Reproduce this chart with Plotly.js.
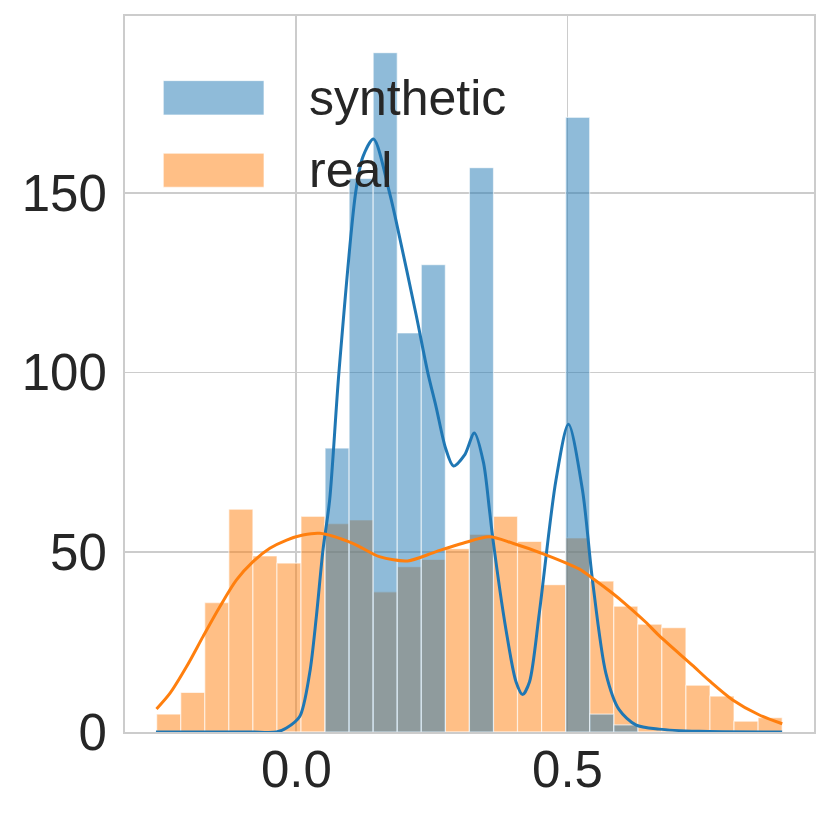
<!DOCTYPE html>
<html>
<head>
<meta charset="utf-8">
<script src="https://cdn.plot.ly/plotly-3.0.1.min.js"></script>
<style>html,body{margin:0;padding:0;background:#fff;}#chart{width:831px;height:817px;}</style>
</head>
<body>
<div id="chart"></div>
<script>
// Histogram bin centres (shared bins)
const binCenters = [-0.2355,-0.1911,-0.1468,-0.1024,-0.0580,-0.0137,0.0307,0.0751,0.1194,0.1638,
  0.2082,0.2525,0.2969,0.3413,0.3856,0.4300,0.4744,0.5187,0.5631,0.6075,0.6518,0.6962,0.7406,0.7849,0.8293,0.8737];
const binWidth = 0.04437;

// Counts
const realCounts = [5,11,36,62,49,47,60,58,59,39,46,48,51,55,60,53,41,54,42,35,30,29,13,10,3,4];
const synthCounts = [0,0,0,0,0,0,0,79,154,189,111,130,0,157,0,0,0,171,5,2,0,0,0,0,0,0];

// KDE curves
const synthKdeX = [-0.259,-0.086,-0.0368,-0.0184,0.0061,0.0245,0.0368,0.0490,0.0613,0.0784,0.1092,0.1226,0.1423,
  0.1718,0.1841,0.2209,0.2423,0.2577,0.2750,0.2896,0.3100,0.3282,0.3450,0.3559,0.3619,0.3866,0.4050,0.4172,0.4300,0.4479,
  0.4786,0.5018,0.5276,0.5460,0.5707,0.5952,0.6259,0.6688,0.7425,0.8958];
const synthKdeY = [0,0,0,1.1,4.3,16.4,32.1,50.6,64.5,100,150,160,165,
  150,142,116,100,90.4,79,74,77,83.2,75,62,54.3,28.4,14,10.4,14,33,
  70,85.6,67.3,42.3,16.4,6.2,2,0.8,0.2,0];

const realKdeX = [-0.258,-0.233,-0.2025,-0.172,-0.141,-0.1105,-0.080,-0.049,-0.018,0.012,0.043,0.104,0.153,0.205,
  0.258,0.307,0.356,0.399,0.460,0.522,0.546,0.583,0.607,0.644,0.669,0.730,0.762,0.804,0.853,0.896];
const realKdeY = [6.4,10.8,18.2,26.6,34.9,42.3,47.4,51.1,53.4,54.8,55.3,52.5,48.8,47.6,
  50.2,52.5,54.3,52.5,49.3,45.3,42.8,38.6,35.6,30.6,26.8,18.6,14.2,9,4.8,2.3];

const xTickVals = [0, 0.5];
const xTickText = ['0.0', '0.5'];
const yTickVals = [0, 50, 100, 150];
const legendLabels = ['synthetic', 'real'];

const BLUE = '#1f77b4', ORANGE = '#ff7f0e';
const FONT = 'Liberation Sans, Arial, sans-serif';

const traces = [
  {type:'bar', x:binCenters, y:realCounts, width:binWidth, name:'real',
   marker:{color:'rgba(255,127,14,0.5)', line:{color:'rgba(255,255,255,0.6)', width:1.2}}, showlegend:false, hoverinfo:'skip'},
  {type:'bar', x:binCenters, y:synthCounts, width:binWidth, name:'synthetic',
   marker:{color:'rgba(31,119,180,0.5)', line:{color:'rgba(255,255,255,0.6)', width:1.2}}, showlegend:false, hoverinfo:'skip'},
  {type:'scatter', mode:'lines', x:synthKdeX, y:synthKdeY, line:{color:BLUE, width:3, shape:'spline', smoothing:0.8}, showlegend:false, hoverinfo:'skip'},
  {type:'scatter', mode:'lines', x:realKdeX, y:realKdeY, line:{color:ORANGE, width:3, shape:'spline', smoothing:0.8}, showlegend:false, hoverinfo:'skip'}
];

const layout = {
  width:831, height:817,
  margin:{l:125, r:17, t:16, b:85},
  paper_bgcolor:'#ffffff', plot_bgcolor:'#ffffff',
  barmode:'overlay', bargap:0,
  showlegend:false,
  font:{family:FONT, color:'#262626', size:50},
  xaxis:{range:[-0.3161,0.9546], tickvals:xTickVals, ticktext:xTickText, showgrid:true, gridcolor:'#cccccc', gridwidth:1.8,
    zeroline:false, showline:true, mirror:true, linecolor:'#cccccc', linewidth:2, ticks:'', ticklabelstandoff:-8,
    tickfont:{family:FONT, size:51, color:'#262626'}},
  yaxis:{range:[0,199.2], tickvals:yTickVals, showgrid:true, gridcolor:'#cccccc', gridwidth:1.8,
    zeroline:false, showline:true, mirror:true, linecolor:'#cccccc', linewidth:2, ticks:'', ticklabelstandoff:6,
    tickfont:{family:FONT, size:51, color:'#262626'}},
  shapes:[
    {type:'rect', xref:'paper', yref:'paper', x0:0.0556, x1:0.2017, y0:0.8618, y1:0.9097, layer:'above',
     fillcolor:'rgba(31,119,180,0.5)', line:{color:'rgba(255,255,255,0.6)', width:1}},
    {type:'rect', xref:'paper', yref:'paper', x0:0.0556, x1:0.2017, y0:0.7609, y1:0.8083, layer:'above',
     fillcolor:'rgba(255,127,14,0.5)', line:{color:'rgba(255,255,255,0.6)', width:1}}
  ],
  annotations:[
    {xref:'paper', yref:'paper', x:0.2637, y:0.8858, xanchor:'left', yanchor:'middle', text:legendLabels[0], showarrow:false,
     font:{family:FONT, size:50, color:'#262626'}},
    {xref:'paper', yref:'paper', x:0.2637, y:0.7846, xanchor:'left', yanchor:'middle', text:legendLabels[1], showarrow:false,
     font:{family:FONT, size:50, color:'#262626'}}
  ]
};

Plotly.newPlot('chart', traces, layout, {displayModeBar:false, staticPlot:true});
</script>
</body>
</html>
